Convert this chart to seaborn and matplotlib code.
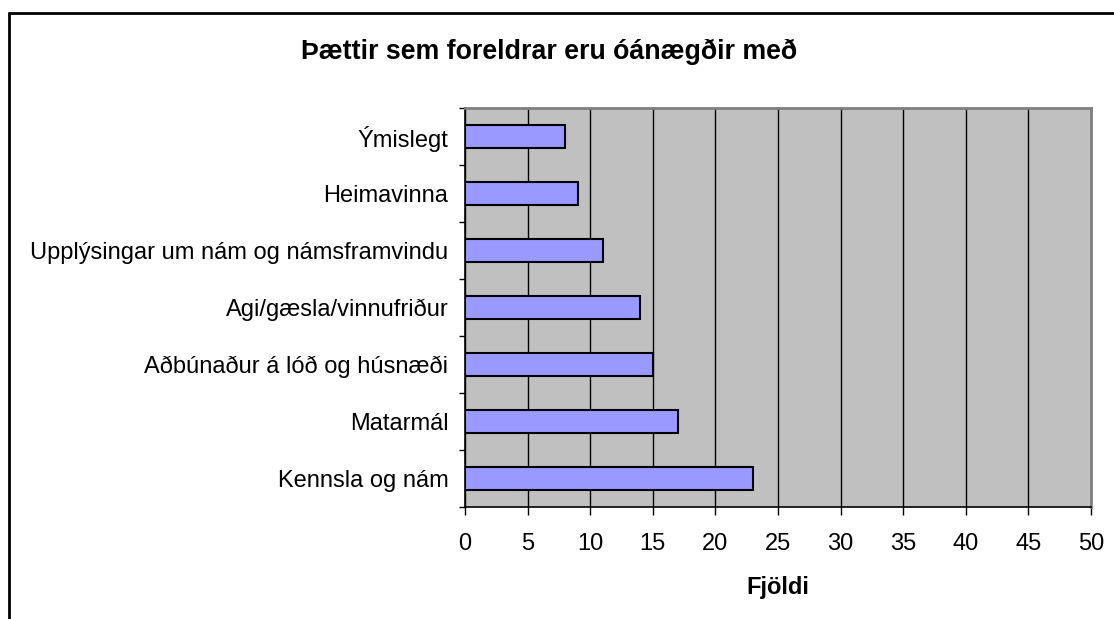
import numpy as np
import pandas as pd
import matplotlib
matplotlib.use('Agg')
import matplotlib.pyplot as plt
from matplotlib.lines import Line2D
import seaborn as sns

# data, top to bottom as in the chart
categories = ['Ýmislegt', 'Heimavinna', 'Upplýsingar um nám og námsframvindu',
              'Agi/gæsla/vinnufriður', 'Aðbúnaður á lóð og húsnæði',
              'Matarmál', 'Kennsla og nám']
counts = [8, 9, 11, 14, 15, 17, 23]
x_ticks = [0, 5, 10, 15, 20, 25, 30, 35, 40, 45, 50]

title = 'Þættir sem foreldrar eru óánægðir með'
xlabel = 'Fjöldi'

sns.set_style('white')
plt.rcParams['font.family'] = ['Liberation Sans', 'DejaVu Sans']
plt.rcParams['text.color'] = 'black'
plt.rcParams['xtick.color'] = 'black'
plt.rcParams['ytick.color'] = 'black'
plt.rcParams['axes.labelcolor'] = 'black'

df = pd.DataFrame({'cat': categories, 'n': counts})

fig = plt.figure(figsize=(11.14, 6.19), dpi=100)
ax = fig.add_axes([465/1114, 1 - 507/619, (1091-465)/1114, (507-108)/619])
ax.set_facecolor('#C0C0C0')

sns.barplot(data=df, x='n', y='cat', order=categories, color='#9999FF',
            saturation=1, width=0.39, edgecolor='black', linewidth=1.5,
            ax=ax, zorder=3)

ax.set_xlim(0, 50)
ax.set_ylim(6.5, -0.5)
ax.set_xticks(x_ticks)
ax.xaxis.grid(True, color='black', linewidth=1)
ax.set_axisbelow(True)
ax.yaxis.grid(False)

# category ticks sit between bars
ax.set_yticks(np.arange(-0.5, 7, 1), minor=True)
ax.tick_params(axis='y', which='major', length=0, pad=12, labelsize=17)
ax.tick_params(axis='y', which='minor', length=4, width=1, color='black',
               direction='out', left=True)
ax.tick_params(axis='x', length=6, width=1, color='black', direction='out',
               bottom=True, pad=13, labelsize=17)

for side in ['left', 'bottom']:
    ax.spines[side].set_color('black')
    ax.spines[side].set_linewidth(1.2)
for side in ['top', 'right']:
    ax.spines[side].set_color('#808080')
    ax.spines[side].set_linewidth(2)

ax.set_ylabel('')
ax.set_xlabel(xlabel, fontsize=17, fontweight='bold', labelpad=15)

fig.text(0.493, 1 - 52/619, title, ha='center', va='center',
         fontsize=19.3, fontweight='bold')

# outer chart frame (top and left edges visible)
fig.add_artist(Line2D([9/1114, 1], [1 - 13/619, 1 - 13/619],
                      transform=fig.transFigure, color='black', linewidth=2))
fig.add_artist(Line2D([9/1114, 9/1114], [0, 1 - 13/619],
                      transform=fig.transFigure, color='black', linewidth=2))

fig.savefig('out.png', dpi=100)
